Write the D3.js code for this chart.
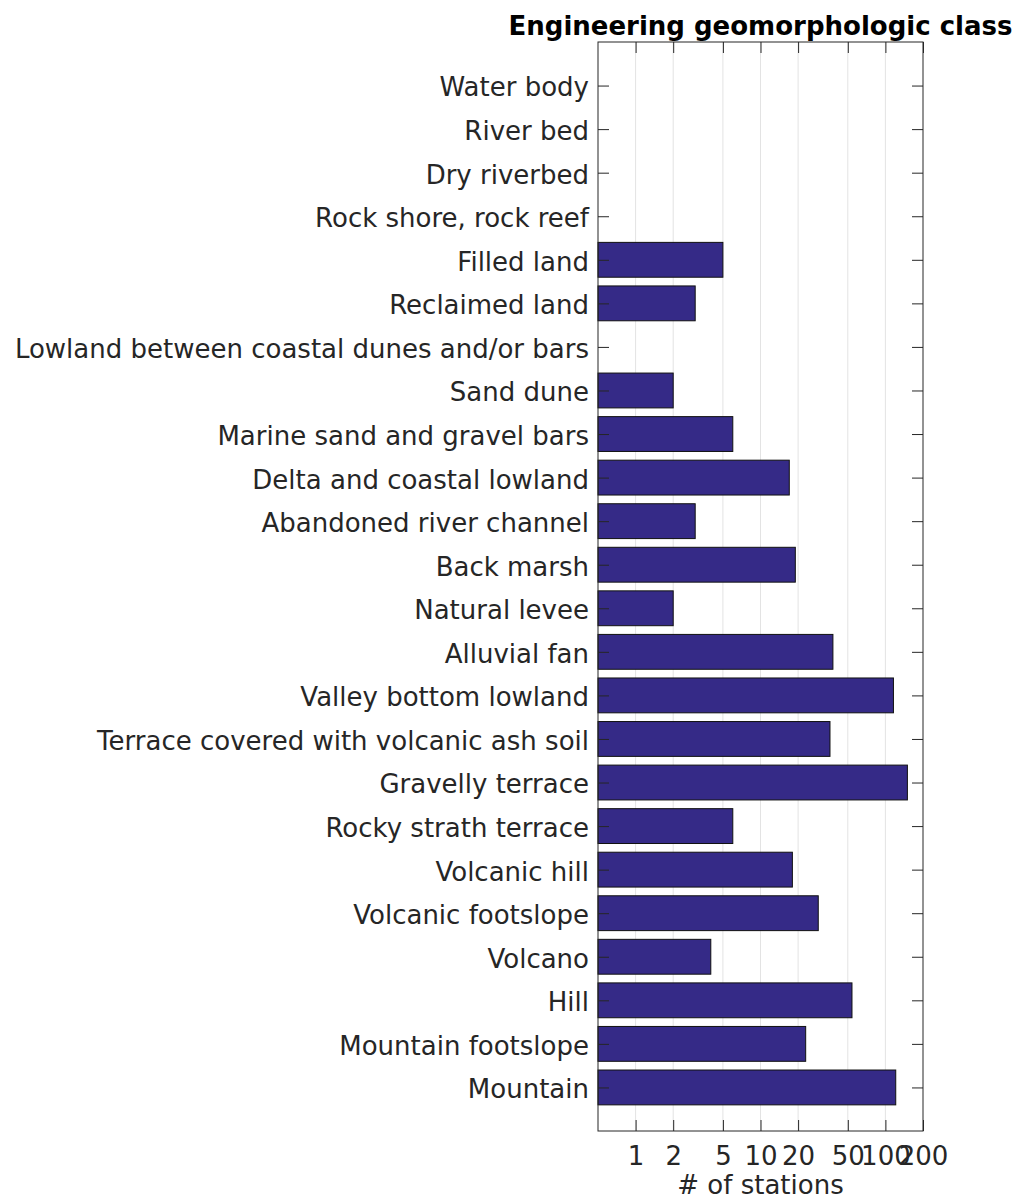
<!DOCTYPE html>
<html>
<head>
<meta charset="utf-8">
<script src="https://cdn.jsdelivr.net/npm/d3@7"></script>
<style>
  html, body { margin: 0; padding: 0; background: #ffffff; }
  svg { display: block; font-family: "DejaVu Sans", sans-serif; }
</style>
</head>
<body>
<svg id="chart" width="1017" height="1201"></svg>
<script>
// Geomorphologic classes, listed top to bottom
const categories = [
  "Water body",
  "River bed",
  "Dry riverbed",
  "Rock shore, rock reef",
  "Filled land",
  "Reclaimed land",
  "Lowland between coastal dunes and/or bars",
  "Sand dune",
  "Marine sand and gravel bars",
  "Delta and coastal lowland",
  "Abandoned river channel",
  "Back marsh",
  "Natural levee",
  "Alluvial fan",
  "Valley bottom lowland",
  "Terrace covered with volcanic ash soil",
  "Gravelly terrace",
  "Rocky strath terrace",
  "Volcanic hill",
  "Volcanic footslope",
  "Volcano",
  "Hill",
  "Mountain footslope",
  "Mountain"
];

// Number of stations in each class (0 = none, not drawn on the log axis)
const stationCounts = [
  0, 0, 0, 0, 5, 3, 0, 2, 6, 17, 3, 19, 2, 38, 116, 36, 150, 6, 18, 29, 4, 54, 23, 121
];

const xTickValues = [1, 2, 5, 10, 20, 50, 100, 200];
const xDomain = [0.5, 200];

const titleText = "Engineering geomorphologic class";
const xLabelText = "# of stations";

const svg = d3.select("#chart");
const plot = { left: 598, right: 923, top: 42, bottom: 1131 };
const axisColor = "#262626";
const tickLen = 11;
const fontSize = "26px";

const x = d3.scaleLog().domain(xDomain).range([plot.left, plot.right]);
// category positions 1..n inside a 0..n+1 span
const y = d3.scaleLinear().domain([0, categories.length + 1]).range([plot.top, plot.bottom]);
const bandH = (y(1) - y(0)) * 0.8;

// vertical grid lines
svg.append("g")
  .selectAll("line")
  .data(xTickValues.filter(v => v > xDomain[0] && v < xDomain[1]))
  .join("line")
  .attr("x1", d => x(d)).attr("x2", d => x(d))
  .attr("y1", plot.top).attr("y2", plot.bottom)
  .attr("stroke", "#e3e3e3")
  .attr("stroke-width", 1);

// bars
const rows = categories.map((c, i) => ({ name: c, value: stationCounts[i], pos: i + 1 }));
svg.append("g")
  .selectAll("rect")
  .data(rows.filter(d => d.value > 0))
  .join("rect")
  .attr("x", x(xDomain[0]))
  .attr("y", d => y(d.pos) - bandH / 2)
  .attr("width", d => x(d.value) - x(xDomain[0]))
  .attr("height", bandH)
  .attr("fill", "#352a87")
  .attr("stroke", "#111111")
  .attr("stroke-width", 1);

// axes box
svg.append("rect")
  .attr("x", plot.left).attr("y", plot.top)
  .attr("width", plot.right - plot.left).attr("height", plot.bottom - plot.top)
  .attr("fill", "none")
  .attr("stroke", axisColor)
  .attr("stroke-width", 1);

// bottom axis: inward ticks + labels
const xAxisBottom = d3.axisBottom(x)
  .tickValues(xTickValues)
  .tickFormat(d3.format("d"))
  .tickSizeInner(-tickLen)
  .tickSizeOuter(0)
  .tickPadding(16);
const gxb = svg.append("g").attr("transform", `translate(0,${plot.bottom})`).call(xAxisBottom);
gxb.select(".domain").remove();
gxb.selectAll("line").attr("stroke", axisColor);
gxb.selectAll("text").attr("fill", axisColor).style("font-size", fontSize).style("font-family", "DejaVu Sans");

// top axis: inward ticks only
const gxt = svg.append("g").attr("transform", `translate(0,${plot.top})`)
  .call(d3.axisTop(x).tickValues(xTickValues).tickFormat("").tickSizeInner(-tickLen).tickSizeOuter(0));
gxt.select(".domain").remove();
gxt.selectAll("line").attr("stroke", axisColor);

// left axis: inward ticks + category labels
const yTicks = rows.map(d => d.pos);
const gyl = svg.append("g").attr("transform", `translate(${plot.left},0)`)
  .call(d3.axisLeft(y).tickValues(yTicks).tickFormat(p => categories[p - 1])
    .tickSizeInner(-tickLen).tickSizeOuter(0).tickPadding(9));
gyl.select(".domain").remove();
gyl.selectAll("line").attr("stroke", axisColor);
gyl.selectAll("text").attr("fill", axisColor).attr("dy", "0.4em")
  .style("font-size", fontSize).style("font-family", "DejaVu Sans");

// right axis: inward ticks only
const gyr = svg.append("g").attr("transform", `translate(${plot.right},0)`)
  .call(d3.axisRight(y).tickValues(yTicks).tickFormat("").tickSizeInner(-tickLen).tickSizeOuter(0));
gyr.select(".domain").remove();
gyr.selectAll("line").attr("stroke", axisColor);

// title
svg.append("text")
  .attr("x", (plot.left + plot.right) / 2)
  .attr("y", 35)
  .attr("text-anchor", "middle")
  .style("font-size", fontSize)
  .style("font-weight", "bold")
  .attr("fill", "#000000")
  .text(titleText);

// x axis label
svg.append("text")
  .attr("x", (plot.left + plot.right) / 2)
  .attr("y", 1194)
  .attr("text-anchor", "middle")
  .style("font-size", fontSize)
  .attr("fill", axisColor)
  .text(xLabelText);
</script>
</body>
</html>
